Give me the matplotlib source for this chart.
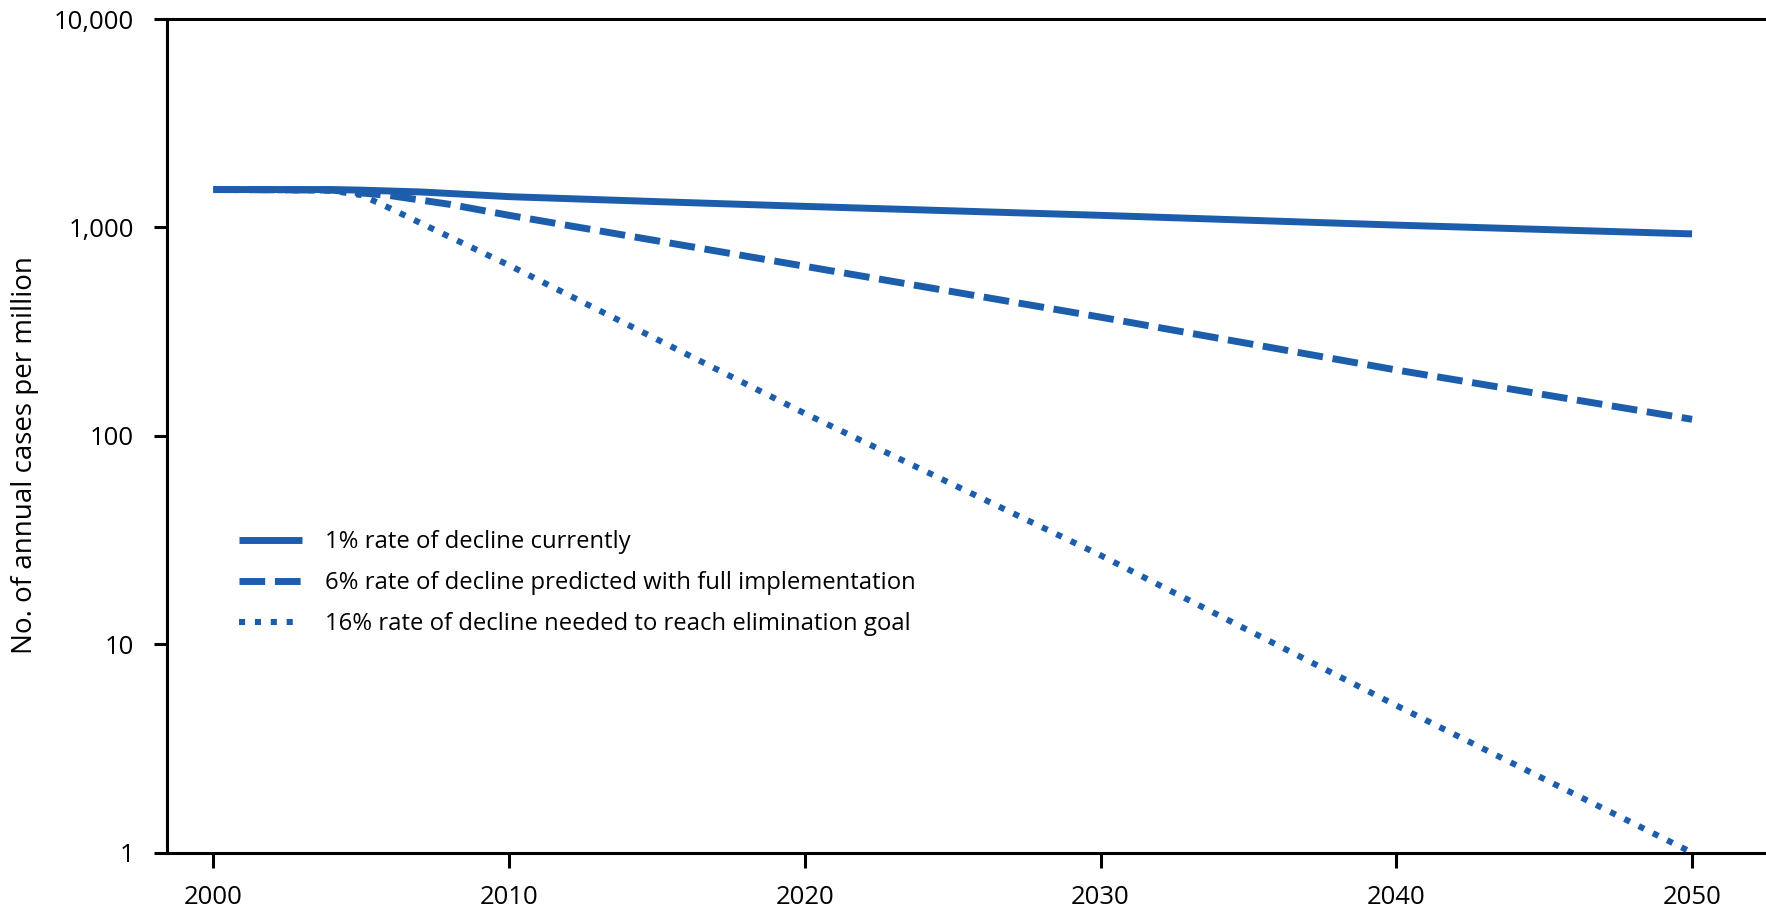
import matplotlib
matplotlib.use("Agg")
import matplotlib.pyplot as plt
from matplotlib.ticker import FixedLocator, FuncFormatter, NullLocator

plt.rcParams['font.family'] = ['Open Sans', 'DejaVu Sans']

# values (annual cases per million)
years_1pct = [2000, 2004, 2005, 2007, 2008, 2010, 2015, 2020, 2030, 2040, 2050]
cases_1pct = [1520, 1520, 1510, 1480, 1455, 1405, 1330, 1262, 1143, 1026, 931]

years_6pct = [2000, 2004, 2006, 2008, 2010, 2020, 2030, 2040, 2050]
cases_6pct = [1520, 1510, 1420, 1290, 1143, 651, 371, 207, 120]

years_16pct = [2000, 2004, 2005, 2006, 2007, 2010, 2020, 2030, 2040, 2050]
cases_16pct = [1520, 1500, 1430, 1230, 1050, 658, 128, 26.7, 5.08, 1.0]

labels = [
    "1% rate of decline currently",
    "6% rate of decline predicted with full implementation",
    "16% rate of decline needed to reach elimination goal",
]
x_ticks = [2000, 2010, 2020, 2030, 2040, 2050]
y_ticks = [1, 10, 100, 1000, 10000]

blue = "#1d5eac"
lw = 5.0

fig = plt.figure(figsize=(17.66, 9.11), dpi=100)
ax = fig.add_axes([0.0944, 0.0641, 0.9056, 0.915])

ax.plot(years_1pct, cases_1pct, color=blue, lw=lw, solid_capstyle="butt",
        label=labels[0])
ax.plot(years_6pct, cases_6pct, color=blue, lw=lw, dashes=(3.7, 1.4),
        dash_capstyle="butt", label=labels[1])
ax.plot(years_16pct, cases_16pct, color=blue, lw=4.4, dashes=(1.0, 1.6),
        dash_capstyle="butt", label=labels[2])

ax.set_yscale("log")
ax.set_ylim(1, 10000)
ax.set_xlim(1998.42, 2052.5)

ax.xaxis.set_major_locator(FixedLocator(x_ticks))
ax.yaxis.set_major_locator(FixedLocator(y_ticks))
ax.yaxis.set_minor_locator(NullLocator())
ax.yaxis.set_major_formatter(FuncFormatter(lambda v, p: f"{int(v):,}"))

for side in ["top", "left", "bottom"]:
    ax.spines[side].set_linewidth(2.2)
ax.spines["right"].set_visible(False)

ax.tick_params(axis="both", which="major", direction="out", width=2.2,
               labelsize=18.5, colors="black")
ax.tick_params(axis="x", length=10.5, pad=13)
ax.tick_params(axis="y", length=9.4, pad=14)

fig.text(25 / 1766, 0.5, "No. of annual cases per million", rotation=90,
         ha="center", va="center", fontsize=20)

ax.legend(loc="upper left", bbox_to_anchor=(239 / 1766, 1 - 530 / 911),
          bbox_transform=fig.transFigure, frameon=False, fontsize=17.2,
          handlelength=2.65, handletextpad=0.95, labelspacing=0.72,
          borderpad=0, borderaxespad=0)

fig.savefig("out.png", dpi=100)
